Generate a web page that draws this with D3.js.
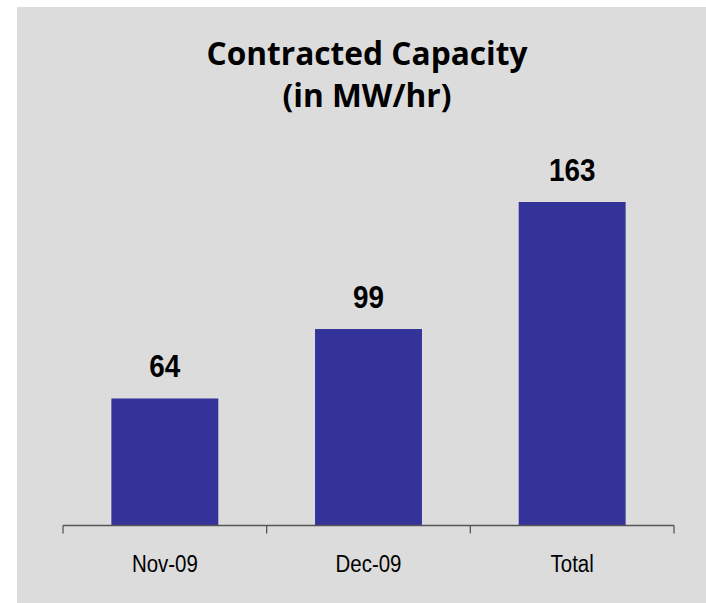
<!DOCTYPE html>
<html>
<head>
<meta charset="utf-8">
<script src="https://cdn.jsdelivr.net/npm/d3@7"></script>
<style>
body{margin:0;background:#fff;}
svg{display:block;}
</style>
</head>
<body>
<script>
//data
var categories=["Nov-09","Dec-09","Total"];
var values=[64,99,163];
var titleLines=["Contracted Capacity","(in MW/hr)"];

var W=706,H=603;
var svg=d3.select("body").append("svg").attr("width",W).attr("height",H);

svg.append("rect").attr("x",17).attr("y",7).attr("width",W-17).attr("height",H-7).attr("fill","#dcdcdc");

var x=d3.scaleBand().domain(categories).range([63,674]).paddingInner(0).paddingOuter(0);
var y=d3.scaleLinear().domain([0,163]).range([525.5,202]);
var squeeze=0.87;

// title
svg.selectAll("text.title").data(titleLines).enter().append("text")
    .attr("class","title")
    .attr("transform",function(d,i){return "translate(367,"+(65+i*42)+") scale(0.99,1)";})
    .attr("text-anchor","middle")
    .attr("font-family","Open Sans, sans-serif")
    .attr("font-weight","bold")
    .attr("font-size",32)
    .attr("fill","#000")
    .text(function(d){return d;});

// bars
var barW=x.bandwidth()*0.525;
svg.selectAll("rect.bar").data(values).enter().append("rect")
    .attr("class","bar")
    .attr("x",function(d,i){return x(categories[i])+(x.bandwidth()-barW)/2;})
    .attr("y",function(d){return y(d);})
    .attr("width",barW)
    .attr("height",function(d){return y(0)-y(d);})
    .attr("fill","#333399");

// value labels
svg.selectAll("text.val").data(values).enter().append("text")
    .attr("class","val")
    .attr("transform",function(d,i){return "translate("+(x(categories[i])+x.bandwidth()/2)+","+(y(d)-21)+") scale("+squeeze+",1)";})
    .attr("text-anchor","middle")
    .attr("font-family","Liberation Sans, Arial, sans-serif")
    .attr("font-weight","bold")
    .attr("font-size",32)
    .attr("fill","#000")
    .text(function(d){return d;});

// axis line + tick marks at band edges
var g=svg.append("g").attr("transform","translate(0,525.5)");
g.append("line").attr("x1",63).attr("x2",674).attr("stroke","#555").attr("stroke-width",1.3);
var tickPos=[63].concat(categories.map(function(c){return x(c)+x.bandwidth();}));
g.selectAll("line.tick").data(tickPos).enter().append("line")
    .attr("x1",function(d){return d;}).attr("x2",function(d){return d;})
    .attr("y1",0).attr("y2",8).attr("stroke","#555").attr("stroke-width",1.3);

svg.selectAll("text.cat").data(categories).enter().append("text")
    .attr("class","cat")
    .attr("transform",function(d){return "translate("+(x(d)+x.bandwidth()/2)+",572) scale("+squeeze+",1)";})
    .attr("text-anchor","middle")
    .attr("font-family","Liberation Sans, Arial, sans-serif")
    .attr("font-size",23.5)
    .attr("fill","#000")
    .text(function(d){return d;});
</script>
</body>
</html>
